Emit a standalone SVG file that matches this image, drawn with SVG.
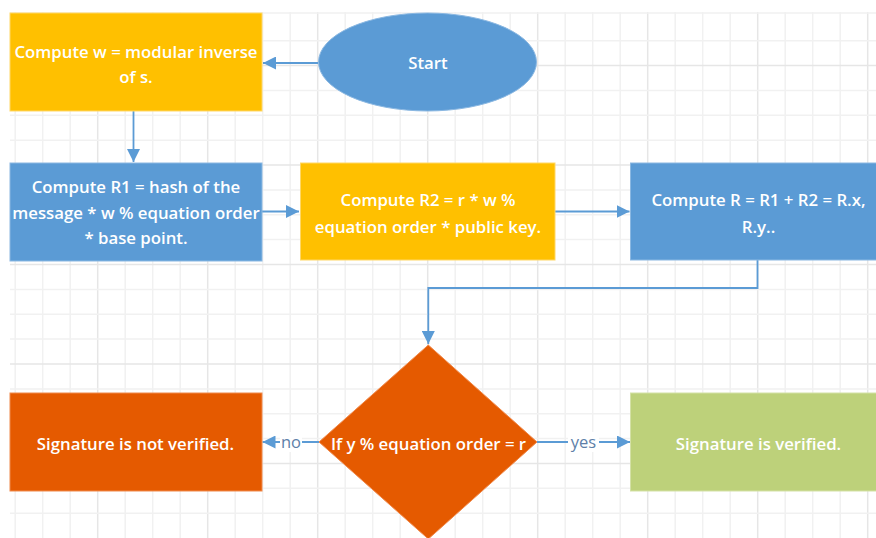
<svg xmlns="http://www.w3.org/2000/svg" width="876" height="538" viewBox="0 0 876 538">
<style>
.minor{stroke:#f1f1f1;stroke-width:1.5;fill:none}
.major{stroke:#e6e6e6;stroke-width:1.5;fill:none}
.conn{stroke:#5B9BD5;stroke-width:1.8;fill:none}
.lbl{font-family:"Open Sans","Liberation Sans",sans-serif;font-size:16.5px;fill:#5E7FA8;text-anchor:middle}
.t{font-family:"Open Sans","Liberation Sans",sans-serif;font-weight:600;font-size:16.8px;fill:#ffffff;text-anchor:middle}
.blue{fill:#5B9BD5;stroke:#8bb8e2;stroke-width:1}
.gold{fill:#FFC000;stroke:#ffd766;stroke-width:1}
.orange{fill:#E55A00;stroke:#f08a4c;stroke-width:1}
.green{fill:#BDD17A;stroke:#d4e1a6;stroke-width:1}
</style>
<defs>
<marker id="ah" markerUnits="userSpaceOnUse" markerWidth="13" markerHeight="13" viewBox="0 0 13 13" refX="13" refY="6.5" orient="auto">
<path d="M0,0 L13,6.5 L0,13 Z" fill="#5B9BD5"/>
</marker>
</defs>
<rect width="876" height="538" fill="#ffffff"/>
<g id="grid">
<path class="minor" d="M15.2,12V538M42.7,12V538M70.2,12V538M125.2,12V538M152.7,12V538M180.2,12V538M235.2,12V538M262.7,12V538M290.2,12V538M345.2,12V538M372.7,12V538M400.2,12V538M455.2,12V538M482.7,12V538M510.2,12V538M565.2,12V538M592.7,12V538M620.2,12V538M675.2,12V538M702.7,12V538M730.2,12V538M785.2,12V538M812.7,12V538M840.2,12V538"/>
<path class="major" d="M97.7,12V538M207.7,12V538M317.7,12V538M427.7,12V538M537.7,12V538M647.7,12V538M757.7,12V538M867.7,12V538"/>
<path class="minor" d="M10,13H876M10,40.7H876M10,90.4H876M10,115.3H876M10,140.2H876M10,189.9H876M10,214.8H876M10,239.6H876M10,289.4H876M10,314.2H876M10,339.1H876M10,388.9H876M10,413.7H876M10,438.6H876M10,488.3H876M10,513.2H876"/>
<path class="major" d="M10,65.6H876M10,165H876M10,264.5H876M10,364H876M10,463.5H876"/>
</g>
<g id="connectors">
<path class="conn" d="M318,63H263" marker-end="url(#ah)"/>
<path class="conn" d="M133.5,111V162" marker-end="url(#ah)"/>
<path class="conn" d="M262,211.5H299" marker-end="url(#ah)"/>
<path class="conn" d="M555,211.5H629.5" marker-end="url(#ah)"/>
<path class="conn" d="M757.5,260V288H428.3V344" marker-end="url(#ah)"/>
<path class="conn" d="M319,442H262.5" marker-end="url(#ah)"/>
<path class="conn" d="M537,442H630" marker-end="url(#ah)"/>
<rect x="280" y="432" width="22" height="20" fill="#ffffff"/>
<text class="lbl" x="291" y="448">no</text>
<rect x="568" y="432" width="31" height="20" fill="#ffffff"/>
<text class="lbl" x="583.5" y="448">yes</text>
</g>
<g id="w">
<rect class="gold" x="10" y="13" width="252" height="98"/>
<text class="t" x="136" y="57.5">Compute w = modular inverse</text>
<text class="t" x="136" y="83">of s.</text>
</g>
<g id="start">
<ellipse class="blue" cx="427.5" cy="62" rx="109" ry="49"/>
<text class="t" x="428" y="68.5">Start</text>
</g>
<g id="r1">
<rect class="blue" x="10" y="163" width="252" height="98"/>
<text class="t" x="136" y="193">Compute R1 = hash of the</text>
<text class="t" x="136" y="219">message * w % equation order</text>
<text class="t" x="136" y="244">* base point.</text>
</g>
<g id="r2">
<rect class="gold" x="300.5" y="163" width="254.5" height="97"/>
<text class="t" x="428" y="206">Compute R2 = r * w %</text>
<text class="t" x="428" y="233">equation order * public key.</text>
</g>
<g id="r">
<rect class="blue" x="630.5" y="163" width="256" height="97"/>
<text class="t" x="758.5" y="206">Compute R = R1 + R2 = R.x,</text>
<text class="t" x="758.5" y="233">R.y..</text>
</g>
<g id="decision">
<path class="orange" d="M428.3,345L537,442L428.3,539L319,442Z"/>
<text class="t" x="428.5" y="449.5">If y % equation order = r</text>
</g>
<g id="notverified">
<rect class="orange" x="10" y="393" width="252" height="98"/>
<text class="t" x="135.5" y="449.5">Signature is not verified.</text>
</g>
<g id="verified">
<rect class="green" x="630.5" y="393" width="256" height="98"/>
<text class="t" x="758.5" y="449.5">Signature is verified.</text>
</g>
</svg>
